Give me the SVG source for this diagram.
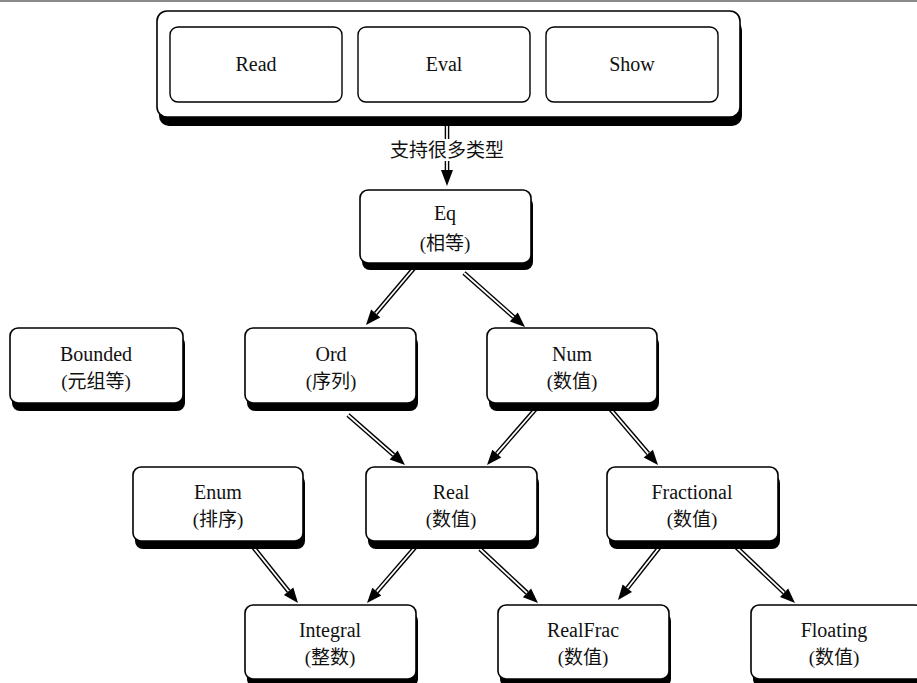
<svg xmlns="http://www.w3.org/2000/svg" width="917" height="683" viewBox="0 0 917 683">
<style>
.bg{fill:#ffffff}
.sh{fill:#000000}
.box{fill:#ffffff;stroke:#000000;stroke-width:1.6}
.in{fill:#ffffff;stroke:#000000;stroke-width:1.4}
.t{font-family:"Liberation Serif","Noto Sans CJK SC",serif;font-size:20px;fill:#111111;text-anchor:middle}
.c{font-family:"Liberation Serif","Noto Sans CJK SC",serif;font-size:19px;fill:#111111;text-anchor:middle}
.ol{stroke:#000000;stroke-width:4.6;fill:none}
.il{stroke:#ffffff;stroke-width:1.8;fill:none}
.hd{fill:#000000}
</style>
<rect class="bg" x="0" y="0" width="917" height="683"/>
<line x1="0" y1="1" x2="917" y2="1" stroke="#8a8a8a" stroke-width="2"/>

<g id="top">
<rect class="sh" x="159" y="20" width="583" height="106" rx="10"/>
<rect class="box" x="157" y="11" width="583" height="106" rx="10"/>
<g id="read"><rect class="in" x="170" y="27" width="172" height="75" rx="8"/><text class="t" x="256" y="71">Read</text></g>
<g id="eval"><rect class="in" x="358" y="27" width="172" height="75" rx="8"/><text class="t" x="444" y="71">Eval</text></g>
<g id="show"><rect class="in" x="546" y="27" width="172" height="75" rx="8"/><text class="t" x="632" y="71">Show</text></g>
</g>

<g id="connectors">
<g id="c0">
<line class="ol" x1="447" y1="126" x2="447" y2="171"/>
<line class="il" x1="447" y1="126" x2="447" y2="171"/>
<polygon class="hd" points="447,186 441,170 453,170"/>
<rect x="382" y="139" width="130" height="22" fill="#ffffff"/>
<text class="c" x="447" y="157">支持很多类型</text>
</g>
<g id="c1"><line class="ol" x1="415" y1="267" x2="375.7" y2="313.5"/><line class="il" x1="415" y1="267" x2="375.7" y2="313.5"/><polygon class="hd" points="366,325 380.3,317.4 371.1,309.6"/></g>
<g id="c2"><line class="ol" x1="464" y1="273" x2="513.8" y2="317.1"/><line class="il" x1="464" y1="273" x2="513.8" y2="317.1"/><polygon class="hd" points="525,327 509.8,321.6 517.8,312.6"/></g>
<g id="c3"><line class="ol" x1="348" y1="415" x2="393.7" y2="455.1"/><line class="il" x1="348" y1="415" x2="393.7" y2="455.1"/><polygon class="hd" points="405,465 389.7,459.6 397.7,450.6"/></g>
<g id="c4"><line class="ol" x1="540" y1="404" x2="496.8" y2="453.7"/><line class="il" x1="540" y1="404" x2="496.8" y2="453.7"/><polygon class="hd" points="487,465 501.3,457.6 492.3,449.8"/></g>
<g id="c5"><line class="ol" x1="606" y1="404" x2="648.3" y2="453.6"/><line class="il" x1="606" y1="404" x2="648.3" y2="453.6"/><polygon class="hd" points="658,465 643.7,457.5 652.9,449.7"/></g>
<g id="c6"><line class="ol" x1="250" y1="543" x2="288.6" y2="591.3"/><line class="il" x1="250" y1="543" x2="288.6" y2="591.3"/><polygon class="hd" points="298,603 283.9,595.1 293.3,587.6"/></g>
<g id="c7"><line class="ol" x1="418" y1="544" x2="376.8" y2="591.7"/><line class="il" x1="418" y1="544" x2="376.8" y2="591.7"/><polygon class="hd" points="367,603 381.3,595.6 372.3,587.8"/></g>
<g id="c8"><line class="ol" x1="480" y1="549" x2="527" y2="592.8"/><line class="il" x1="480" y1="549" x2="527" y2="592.8"/><polygon class="hd" points="538,603 522.9,597.2 531.1,588.4"/></g>
<g id="c9"><line class="ol" x1="662" y1="544" x2="627.3" y2="588.2"/><line class="il" x1="662" y1="544" x2="627.3" y2="588.2"/><polygon class="hd" points="618,600 632,591.9 622.6,584.5"/></g>
<g id="c10"><line class="ol" x1="733" y1="544" x2="784.1" y2="592.7"/><line class="il" x1="733" y1="544" x2="784.1" y2="592.7"/><polygon class="hd" points="795,603 780,597 788.2,588.4"/></g>
</g>

<g id="eq"><rect class="sh" x="362" y="197" width="171" height="73" rx="8"/><rect class="box" x="360" y="190" width="171" height="73" rx="8"/><text class="t" x="445" y="220">Eq</text><text class="c" x="445" y="250">(相等)</text></g>
<g id="bounded"><rect class="sh" x="12" y="336" width="173" height="75" rx="8"/><rect class="box" x="10" y="328" width="173" height="75" rx="8"/><text class="t" x="96" y="361">Bounded</text><text class="c" x="96" y="388">(元组等)</text></g>
<g id="ord"><rect class="sh" x="247" y="336" width="171" height="75" rx="8"/><rect class="box" x="245" y="328" width="171" height="75" rx="8"/><text class="t" x="331" y="361">Ord</text><text class="c" x="331" y="388">(序列)</text></g>
<g id="num"><rect class="sh" x="489" y="336" width="170" height="75" rx="8"/><rect class="box" x="487" y="328" width="170" height="75" rx="8"/><text class="t" x="572" y="361">Num</text><text class="c" x="572" y="388">(数值)</text></g>
<g id="enum"><rect class="sh" x="135" y="475" width="170" height="74" rx="8"/><rect class="box" x="133" y="467" width="170" height="74" rx="8"/><text class="t" x="218" y="499">Enum</text><text class="c" x="218" y="526">(排序)</text></g>
<g id="real"><rect class="sh" x="368" y="475" width="171" height="74" rx="8"/><rect class="box" x="366" y="467" width="171" height="74" rx="8"/><text class="t" x="451" y="499">Real</text><text class="c" x="451" y="526">(数值)</text></g>
<g id="fractional"><rect class="sh" x="609" y="475" width="171" height="74" rx="8"/><rect class="box" x="607" y="467" width="171" height="74" rx="8"/><text class="t" x="692" y="499">Fractional</text><text class="c" x="692" y="526">(数值)</text></g>
<g id="integral"><rect class="sh" x="247" y="613" width="171" height="74" rx="8"/><rect class="box" x="245" y="605" width="171" height="74" rx="8"/><text class="t" x="330" y="637">Integral</text><text class="c" x="330" y="664">(整数)</text></g>
<g id="realfrac"><rect class="sh" x="500" y="613" width="171" height="74" rx="8"/><rect class="box" x="498" y="605" width="171" height="74" rx="8"/><text class="t" x="583" y="637">RealFrac</text><text class="c" x="583" y="664">(数值)</text></g>
<g id="floating"><rect class="sh" x="753" y="613" width="172" height="74" rx="8"/><rect class="box" x="751" y="605" width="172" height="74" rx="8"/><text class="t" x="834" y="637">Floating</text><text class="c" x="834" y="664">(数值)</text></g>
</svg>
